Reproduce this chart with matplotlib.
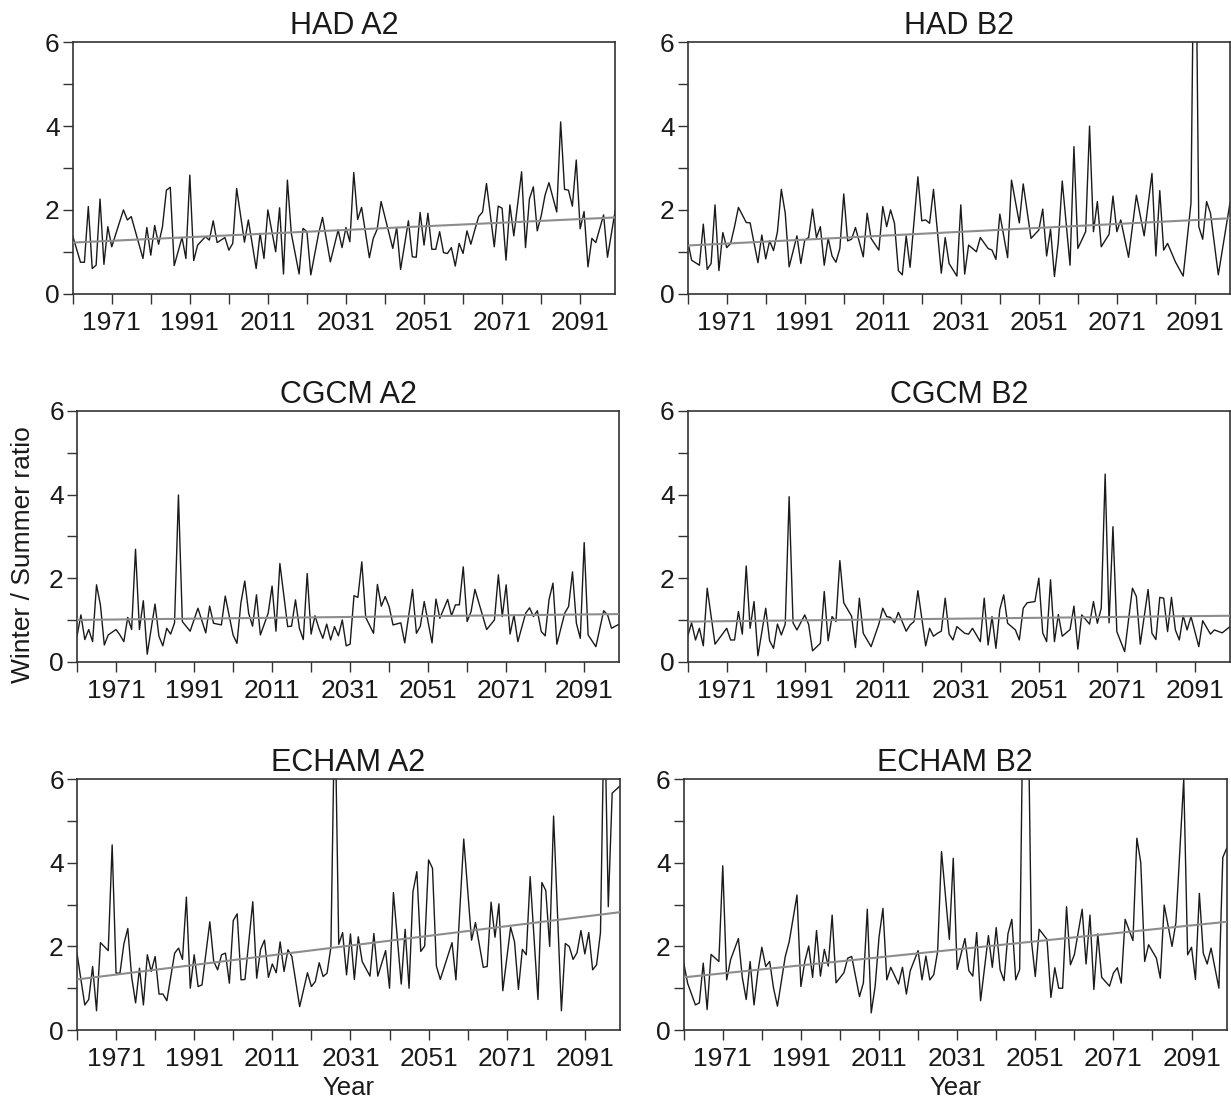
import matplotlib
matplotlib.use("Agg")
import matplotlib.pyplot as plt

plt.rcParams['font.family'] = ['Liberation Sans', 'DejaVu Sans']

# --- data (year, winter/summer ratio) ---
had_a2_years = [1961, 1963, 1964, 1965, 1966, 1967, 1968, 1969, 1970, 1971, 1974, 1975, 1976, 1979, 1980,
                1981, 1982, 1983, 1984, 1985, 1986, 1987, 1989, 1990, 1991, 1992, 1993, 1995, 1996, 1997,
                1998, 2000, 2001, 2002, 2003, 2005, 2006, 2008, 2009, 2010, 2011, 2013, 2014, 2015, 2016,
                2017, 2019, 2020, 2021, 2022, 2024, 2025, 2027, 2029, 2030, 2031, 2032, 2033, 2034, 2035,
                2037, 2038, 2039, 2040, 2043, 2044, 2045, 2047, 2048, 2049, 2050, 2051, 2052, 2053, 2054,
                2055, 2056, 2057, 2058, 2059, 2060, 2061, 2062, 2063, 2064, 2065, 2066, 2067, 2069, 2070,
                2071, 2072, 2073, 2074, 2076, 2077, 2078, 2079, 2080, 2081, 2082, 2083, 2085, 2086, 2087,
                2088, 2089, 2090, 2091, 2092, 2093, 2094, 2095, 2097, 2098, 2100]
had_a2_vals = [1.38, 0.75, 0.75, 2.08, 0.6, 0.68, 2.26, 0.7, 1.6, 1.12, 2.0, 1.76, 1.84, 0.84, 1.58,
               0.92, 1.63, 1.18, 1.6, 2.47, 2.54, 0.67, 1.34, 0.84, 2.83, 0.79, 1.16, 1.36, 1.28, 1.74,
               1.22, 1.34, 1.04, 1.2, 2.51, 1.23, 1.76, 0.6, 1.44, 0.84, 2.0, 1.0, 2.05, 0.47, 2.71,
               1.44, 0.47, 1.56, 1.48, 0.45, 1.44, 1.82, 0.76, 1.52, 1.1, 1.58, 1.24, 2.89, 1.77, 2.06,
               0.86, 1.32, 1.54, 2.2, 1.08, 1.58, 0.58, 1.74, 0.88, 0.87, 1.94, 1.16, 1.92, 1.06, 1.06,
               1.48, 0.98, 0.96, 1.1, 0.66, 1.2, 0.96, 1.5, 1.18, 1.52, 1.84, 1.95, 2.63, 1.12, 2.09,
               2.04, 0.8, 2.12, 1.38, 2.91, 1.1, 2.26, 2.55, 1.5, 1.85, 2.35, 2.65, 1.95, 4.1, 2.49,
               2.47, 2.09, 3.19, 1.55, 1.96, 0.64, 1.32, 1.22, 1.88, 0.87, 2.0]

had_b2_years = [1961, 1962, 1964, 1965, 1966, 1967, 1968, 1969, 1970, 1971, 1972, 1973, 1974, 1976, 1977,
                1979, 1980, 1981, 1982, 1983, 1984, 1985, 1986, 1987, 1989, 1990, 1991, 1992, 1993, 1994,
                1995, 1996, 1997, 1998, 1999, 2000, 2001, 2002, 2003, 2004, 2006, 2007, 2008, 2010, 2011,
                2012, 2013, 2014, 2015, 2016, 2017, 2018, 2020, 2021, 2022, 2023, 2024, 2026, 2027, 2028,
                2030, 2031, 2032, 2033, 2035, 2036, 2038, 2039, 2040, 2041, 2043, 2044, 2046, 2047, 2049,
                2051, 2052, 2053, 2054, 2055, 2056, 2057, 2059, 2060, 2061, 2063, 2064, 2065, 2066, 2067,
                2069, 2070, 2071, 2072, 2074, 2076, 2078, 2080, 2081, 2082, 2083, 2084, 2086, 2088, 2090,
                2091, 2092, 2093, 2094, 2095, 2097, 2100]
had_b2_vals = [1.26, 0.8, 0.68, 1.66, 0.58, 0.72, 2.12, 0.55, 1.46, 1.1, 1.2, 1.6, 2.06, 1.7, 1.69,
               0.74, 1.4, 0.83, 1.26, 1.03, 1.48, 2.49, 1.92, 0.64, 1.38, 0.72, 1.28, 1.34, 2.02, 1.34,
               1.6, 0.68, 1.32, 0.9, 0.75, 1.08, 2.38, 1.26, 1.3, 1.58, 0.88, 1.92, 1.32, 1.04, 2.08,
               1.6, 2.0, 1.68, 0.55, 0.45, 1.38, 0.63, 2.79, 1.74, 1.76, 1.68, 2.49, 0.49, 1.34, 0.72,
               0.42, 2.12, 0.47, 1.16, 1.0, 1.34, 1.08, 1.04, 0.82, 1.9, 0.86, 2.71, 1.69, 2.62, 1.32,
               1.52, 2.02, 0.9, 1.54, 0.41, 1.24, 2.69, 0.68, 3.51, 1.08, 1.48, 4.0, 1.48, 2.2, 1.12,
               1.42, 2.33, 1.48, 1.76, 0.87, 2.35, 1.38, 2.87, 0.9, 2.46, 1.04, 1.2, 0.76, 0.42, 2.16,
               11.0, 1.6, 1.3, 2.2, 1.92, 0.45, 2.17]

cgcm_a2_years = [1961, 1962, 1963, 1964, 1965, 1966, 1967, 1968, 1969, 1971, 1972, 1973, 1974, 1975, 1976,
                 1977, 1978, 1979, 1981, 1982, 1983, 1984, 1985, 1986, 1987, 1988, 1990, 1992, 1994, 1995,
                 1996, 1998, 1999, 2001, 2002, 2003, 2004, 2005, 2006, 2007, 2008, 2010, 2011, 2012, 2013,
                 2015, 2016, 2017, 2018, 2019, 2020, 2021, 2022, 2023, 2024, 2025, 2026, 2027, 2028, 2029,
                 2030, 2031, 2032, 2033, 2034, 2035, 2037, 2038, 2039, 2040, 2041, 2042, 2044, 2045, 2047,
                 2048, 2049, 2050, 2052, 2053, 2054, 2056, 2057, 2058, 2059, 2060, 2061, 2062, 2063, 2066,
                 2068, 2069, 2070, 2071, 2072, 2073, 2074, 2076, 2077, 2078, 2079, 2080, 2081, 2082, 2083,
                 2084, 2086, 2087, 2088, 2089, 2090, 2091, 2092, 2094, 2096, 2097, 2098, 2100]
cgcm_a2_vals = [0.61, 1.12, 0.53, 0.77, 0.48, 1.84, 1.36, 0.4, 0.64, 0.77, 0.64, 0.48, 1.06, 0.77, 2.69,
                0.77, 1.46, 0.18, 1.38, 0.61, 0.38, 0.8, 0.66, 0.93, 3.99, 0.96, 0.73, 1.28, 0.69, 1.33,
                0.92, 0.88, 1.57, 0.64, 0.44, 1.4, 1.93, 1.16, 0.85, 1.6, 0.64, 1.16, 1.81, 0.73, 2.35,
                0.84, 0.85, 1.48, 0.8, 0.53, 2.11, 0.66, 1.1, 0.8, 0.56, 0.9, 0.52, 0.84, 0.62, 1.0,
                0.38, 0.42, 1.58, 1.54, 2.39, 1.06, 0.68, 1.85, 1.33, 1.56, 1.32, 0.88, 0.93, 0.45, 1.73,
                0.68, 0.85, 1.44, 0.45, 1.5, 1.04, 1.49, 1.1, 1.36, 1.36, 2.27, 0.96, 1.2, 1.73, 0.77,
                1.0, 2.08, 1.08, 1.84, 0.66, 1.12, 0.48, 1.16, 1.29, 1.08, 1.22, 0.72, 0.62, 1.49, 1.88,
                0.42, 1.16, 1.32, 2.15, 0.92, 0.56, 2.85, 0.64, 0.36, 1.22, 1.12, 0.8, 0.9]

cgcm_b2_years = [1961, 1962, 1963, 1964, 1965, 1966, 1968, 1971, 1972, 1973, 1974, 1975, 1976, 1977, 1978,
                 1979, 1981, 1982, 1983, 1984, 1985, 1986, 1987, 1988, 1989, 1991, 1992, 1993, 1995, 1996,
                 1997, 1998, 1999, 2000, 2001, 2003, 2004, 2005, 2006, 2008, 2010, 2011, 2012, 2013, 2014,
                 2015, 2017, 2018, 2019, 2020, 2022, 2023, 2024, 2025, 2026, 2027, 2028, 2029, 2030, 2032,
                 2033, 2034, 2036, 2037, 2038, 2039, 2040, 2041, 2042, 2043, 2045, 2046, 2047, 2048, 2050,
                 2051, 2052, 2053, 2054, 2055, 2056, 2057, 2059, 2060, 2061, 2062, 2064, 2065, 2066, 2067,
                 2068, 2069, 2070, 2071, 2073, 2074, 2075, 2076, 2077, 2079, 2080, 2081, 2082, 2083, 2084,
                 2085, 2086, 2087, 2088, 2089, 2090, 2092, 2093, 2095, 2096, 2098, 2100]
cgcm_b2_vals = [0.61, 0.93, 0.52, 0.8, 0.38, 1.76, 0.42, 0.8, 0.52, 0.52, 1.2, 0.66, 2.29, 0.8, 1.44,
                0.14, 1.28, 0.5, 0.32, 0.9, 0.64, 0.9, 3.95, 0.93, 0.76, 1.12, 0.89, 0.26, 0.44, 1.68,
                0.5, 1.08, 0.96, 2.42, 1.41, 1.09, 0.34, 1.52, 0.68, 0.36, 0.9, 1.28, 1.08, 1.06, 0.93,
                1.18, 0.73, 0.88, 0.96, 1.7, 0.38, 0.8, 0.61, 0.68, 0.73, 1.52, 0.66, 0.52, 0.84, 0.68,
                0.66, 0.8, 0.48, 1.52, 0.4, 1.08, 0.32, 1.25, 1.6, 0.92, 0.76, 0.52, 1.28, 1.41, 1.44,
                2.0, 0.69, 0.48, 1.96, 0.48, 1.13, 0.61, 0.77, 1.33, 0.3, 1.12, 0.9, 1.44, 0.92, 1.28,
                4.49, 0.93, 3.23, 0.72, 0.24, 1.01, 1.76, 1.56, 0.42, 1.73, 0.68, 0.53, 1.54, 1.52, 0.72,
                1.54, 0.76, 0.52, 1.1, 0.76, 1.08, 0.36, 0.98, 0.66, 0.76, 0.69, 0.84]

echam_a2_years = [1961, 1962, 1963, 1964, 1965, 1966, 1967, 1969, 1970, 1971, 1972, 1973, 1974, 1975, 1976,
                  1977, 1978, 1979, 1980, 1981, 1982, 1983, 1984, 1986, 1987, 1988, 1989, 1990, 1991, 1992,
                  1993, 1995, 1996, 1997, 1998, 1999, 2000, 2001, 2002, 2003, 2004, 2006, 2007, 2008, 2009,
                  2010, 2011, 2012, 2013, 2014, 2015, 2016, 2018, 2020, 2021, 2022, 2023, 2024, 2025, 2026,
                  2027, 2028, 2029, 2030, 2031, 2032, 2033, 2034, 2036, 2037, 2038, 2040, 2041, 2042, 2044,
                  2045, 2046, 2047, 2048, 2049, 2050, 2051, 2052, 2053, 2054, 2057, 2058, 2060, 2062, 2063,
                  2065, 2066, 2067, 2068, 2069, 2070, 2072, 2073, 2074, 2075, 2076, 2077, 2079, 2080, 2081,
                  2082, 2083, 2085, 2086, 2087, 2088, 2089, 2090, 2091, 2092, 2093, 2094, 2095, 2096, 2097,
                  2098, 2100]
echam_a2_vals = [1.84, 1.21, 0.6, 0.73, 1.52, 0.46, 2.09, 1.9, 4.43, 1.36, 1.36, 2.06, 2.43, 1.26, 0.65,
                 1.48, 0.6, 1.8, 1.4, 1.76, 0.86, 0.86, 0.7, 1.84, 1.96, 1.69, 3.18, 1.0, 1.8, 1.04,
                 1.08, 2.59, 1.64, 1.44, 1.8, 1.84, 1.12, 2.62, 2.78, 1.2, 1.21, 3.07, 1.24, 1.93, 2.15,
                 1.26, 1.58, 1.37, 2.11, 1.4, 1.92, 1.76, 0.56, 1.37, 1.04, 1.16, 1.61, 1.28, 1.36, 1.98,
                 8.0, 2.05, 2.33, 1.32, 2.3, 1.21, 2.23, 1.64, 1.29, 2.31, 1.29, 1.9, 1.0, 3.29, 1.1,
                 2.41, 1.0, 3.31, 3.79, 1.88, 2.01, 4.07, 3.87, 1.53, 1.21, 2.09, 1.2, 4.57, 2.15, 2.57,
                 1.5, 1.52, 3.06, 2.22, 3.02, 0.94, 2.46, 2.11, 0.97, 1.93, 1.8, 3.67, 0.73, 3.53, 3.34,
                 2.0, 5.12, 0.46, 2.07, 2.0, 1.69, 1.85, 2.38, 1.82, 2.33, 1.44, 1.56, 2.33, 8.0, 2.95,
                 5.67, 5.84]

echam_b2_years = [1961, 1962, 1964, 1965, 1966, 1967, 1968, 1970, 1971, 1972, 1973, 1975, 1976, 1977, 1978,
                  1979, 1980, 1981, 1982, 1983, 1984, 1985, 1987, 1988, 1990, 1991, 1992, 1993, 1994, 1995,
                  1996, 1997, 1998, 1999, 2000, 2002, 2003, 2004, 2006, 2007, 2008, 2009, 2010, 2011, 2012,
                  2013, 2014, 2016, 2017, 2018, 2019, 2021, 2022, 2023, 2024, 2025, 2026, 2027, 2029, 2030,
                  2031, 2033, 2034, 2035, 2036, 2037, 2039, 2040, 2041, 2042, 2043, 2044, 2045, 2046, 2047,
                  2048, 2049, 2050, 2051, 2052, 2054, 2055, 2056, 2057, 2058, 2059, 2060, 2061, 2063, 2064,
                  2065, 2066, 2067, 2068, 2070, 2071, 2072, 2073, 2074, 2076, 2077, 2078, 2079, 2080, 2082,
                  2083, 2084, 2086, 2087, 2089, 2090, 2091, 2092, 2093, 2094, 2095, 2096, 2098, 2099, 2100]
echam_b2_vals = [1.61, 1.12, 0.6, 0.65, 1.6, 0.49, 1.81, 1.64, 3.93, 1.2, 1.68, 2.19, 1.26, 0.73, 1.64,
                 0.6, 1.4, 1.98, 1.52, 1.64, 1.0, 0.57, 1.76, 2.11, 3.23, 1.04, 1.64, 2.01, 1.26, 2.38,
                 1.29, 1.93, 1.53, 2.75, 1.13, 1.37, 1.72, 1.76, 0.8, 1.13, 2.89, 0.41, 1.04, 2.22, 2.91,
                 1.2, 1.5, 1.1, 1.5, 0.86, 1.42, 1.9, 1.2, 1.77, 1.2, 1.32, 1.88, 4.27, 2.17, 4.11,
                 1.45, 2.19, 1.42, 1.29, 2.33, 0.7, 2.26, 1.5, 2.45, 1.44, 1.18, 2.3, 2.65, 1.2, 1.45,
                 9.0, 9.0, 2.15, 1.28, 2.41, 2.17, 0.78, 1.49, 1.0, 1.0, 2.95, 1.56, 1.8, 2.89, 1.58,
                 2.75, 0.97, 2.3, 1.26, 1.05, 1.36, 1.49, 1.12, 2.65, 2.14, 4.59, 4.01, 1.64, 2.04, 1.72,
                 1.24, 2.99, 2.0, 2.57, 6.0, 1.8, 1.98, 1.21, 3.27, 1.84, 1.58, 1.96, 1.0, 4.13, 4.35]

titles = ['HAD A2', 'HAD B2', 'CGCM A2', 'CGCM B2', 'ECHAM A2', 'ECHAM B2']
series_years = [had_a2_years, had_b2_years, cgcm_a2_years, cgcm_b2_years, echam_a2_years, echam_b2_years]
series_vals = [had_a2_vals, had_b2_vals, cgcm_a2_vals, cgcm_b2_vals, echam_a2_vals, echam_b2_vals]
# linear trend value at first and last year
trend_start = [1.22, 1.15, 1.00, 0.96, 1.21, 1.26]
trend_end = [1.82, 1.80, 1.14, 1.10, 2.82, 2.59]
year_first, year_last = 1961, 2100

# --- layout (pixel boxes: left, top, right, bottom) ---
W, H = 1231, 1105
boxes = [(72.7, 42.3, 615.3, 293.7), (687.7, 42.3, 1230, 293.7),
         (77, 411, 619.3, 661.7), (687.7, 411, 1230, 661.7),
         (77, 779.3, 620, 1030), (683.7, 779.3, 1226.7, 1030)]

fig = plt.figure(figsize=(W / 100, H / 100), dpi=100)
spine_c = '#333333'
text_c = '#1a1a1a'

for i, (l, t, r, b) in enumerate(boxes):
    ax = fig.add_axes([l / W, 1 - b / H, (r - l) / W, (b - t) / H])
    ax.plot(series_years[i], series_vals[i], color=text_c, lw=1.0, zorder=2)
    ax.plot([year_first, year_last], [trend_start[i], trend_end[i]], color='#8c8c8c', lw=1.5, zorder=3)

    ax.set_xlim(year_first, year_last)
    ax.set_ylim(0, 6)
    ax.set_xticks(range(1971, 2100, 20))
    ax.set_xticks(range(1961, 2100, 20), minor=True)
    ax.set_yticks([0, 2, 4, 6])
    ax.set_yticks([1, 3, 5], minor=True)
    ax.tick_params(which='both', direction='out', length=7.5, width=1.0, color=spine_c,
                   labelsize=19, labelcolor=text_c)
    ax.tick_params(axis='x', which='both', pad=5)
    ax.tick_params(axis='y', which='both', pad=2)
    for s in ax.spines.values():
        s.set_color(spine_c)
        s.set_linewidth(1.2)

    ax.set_title(titles[i], fontsize=22, pad=6, color=text_c)
    if i >= 4:
        ax.set_xlabel('Year', fontsize=18.5, labelpad=3, color=text_c)

fig.text(23 / W, 1 - 555 / H, 'Winter / Summer ratio', rotation=90, ha='center', va='center',
         fontsize=19, color=text_c)

fig.savefig('out.png', dpi=100)
